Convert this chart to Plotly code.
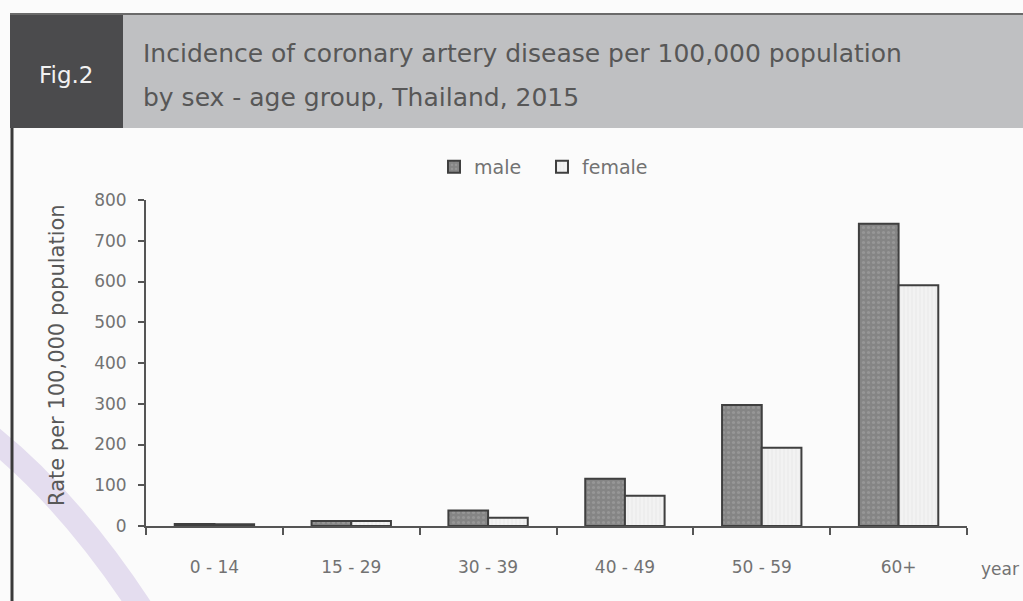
import plotly.graph_objects as go

# ---- data ----
age_groups = ["0 - 14", "15 - 29", "30 - 39", "40 - 49", "50 - 59", "60+"]
male = [5, 12, 38, 116, 297, 742]
female = [4, 12, 20, 74, 192, 591]
y_ticks = [0, 100, 200, 300, 400, 500, 600, 700, 800]

W, H = 1023, 601
L, R, T, B = 146, 56, 200, 75
PW, PH = W - L - R, H - T - B

def px(x):
    return (x - L) / PW

def py(y):
    return 1 - (y - T) / PH

FONT = "DejaVu Sans"
GRAY_TXT = "#727272"

fig = go.Figure()
fig.add_trace(go.Bar(
    x=age_groups, y=male, name="male",
    marker=dict(color="#8c8c8c", line=dict(color="#3f3f3f", width=2),
                pattern=dict(shape=".", fgcolor="#a8a8a8", bgcolor="#858585", size=5, solidity=0.3)),
))
fig.add_trace(go.Bar(
    x=age_groups, y=female, name="female",
    marker=dict(color="#f0f0f0", line=dict(color="#3f3f3f", width=2),
                pattern=dict(shape="|", fgcolor="#d8d8d8", bgcolor="#f2f2f2", size=4, solidity=0.2)),
))

fig.update_layout(
    width=W, height=H,
    margin=dict(l=L, r=R, t=T, b=B),
    paper_bgcolor="#fbfbfb", plot_bgcolor="#fbfbfb",
    barmode="group", bargap=0.42, bargroupgap=0,
    font=dict(family=FONT, color=GRAY_TXT, size=17),
    showlegend=True,
    legend=dict(orientation="h", x=px(434), y=py(167), xanchor="left", yanchor="middle",
                font=dict(size=19, color=GRAY_TXT), bgcolor="rgba(0,0,0,0)",
                itemwidth=30, tracegroupgap=0, itemsizing="constant",
                entrywidth=63, entrywidthmode="pixels"),
    xaxis=dict(type="category", showgrid=False, showline=True, linecolor="#555", linewidth=2,
               ticks="outside", tickson="boundaries", ticklen=7, tickcolor="#555", tickwidth=2,
               tickfont=dict(size=17, color=GRAY_TXT), ticklabelstandoff=25, zeroline=False),
    yaxis=dict(range=[0, 800], tickvals=y_ticks, showgrid=False, showline=True, linecolor="#555",
               linewidth=2, ticks="outside", ticklen=6, tickcolor="#555", tickwidth=2,
               tickfont=dict(size=17, color=GRAY_TXT), ticklabelstandoff=8, zeroline=False),
)

shapes = [
    # decorative lavender curve bottom-left
    dict(type="path", xref="paper", yref="paper",
         path=f"M {px(-10)},{py(436)} Q {px(70)},{py(500)} {px(142)},{py(610)}",
         line=dict(color="#e4ddef", width=24), layer="below"),
    # header gray band
    dict(type="rect", xref="paper", yref="paper", x0=px(123), x1=px(1030), y0=py(128), y1=py(14),
         fillcolor="#bfc0c2", line=dict(width=0), layer="above"),
    # dark Fig box
    dict(type="rect", xref="paper", yref="paper", x0=px(10), x1=px(123), y0=py(128), y1=py(14),
         fillcolor="#4b4b4d", line=dict(width=0), layer="above"),
    # top border line
    dict(type="line", xref="paper", yref="paper", x0=px(10), x1=px(1030), y0=py(14), y1=py(14),
         line=dict(color="#6a6a6a", width=2), layer="above"),
    # left border line
    dict(type="line", xref="paper", yref="paper", x0=px(12), x1=px(12), y0=py(128), y1=py(605),
         line=dict(color="#3a3a3a", width=3), layer="above"),
]
fig.update_layout(shapes=shapes)

annotations = [
    dict(text="Fig.2", xref="paper", yref="paper", x=px(66), y=py(75), showarrow=False,
         font=dict(size=23, color="#f2f2f2", family=FONT), xanchor="center", yanchor="middle"),
    dict(text="Incidence of coronary artery disease per 100,000 population", xref="paper", yref="paper",
         x=px(141), y=py(54), showarrow=False, xanchor="left", yanchor="middle",
         font=dict(size=25, color="#575757", family=FONT)),
    dict(text="by sex - age group, Thailand, 2015", xref="paper", yref="paper",
         x=px(141), y=py(97), showarrow=False, xanchor="left", yanchor="middle",
         font=dict(size=25, color="#575757", family=FONT)),
    dict(text="Rate per 100,000 population", xref="paper", yref="paper", x=px(57), y=py(355),
         textangle=-90, showarrow=False, xanchor="center", yanchor="middle",
         font=dict(size=21, color="#585858", family=FONT)),
    dict(text="year", xref="paper", yref="paper", x=px(979), y=py(569), showarrow=False,
         xanchor="left", yanchor="middle", font=dict(size=17, color=GRAY_TXT, family=FONT)),
]
fig.update_layout(annotations=annotations)

fig.write_html("out.html")
